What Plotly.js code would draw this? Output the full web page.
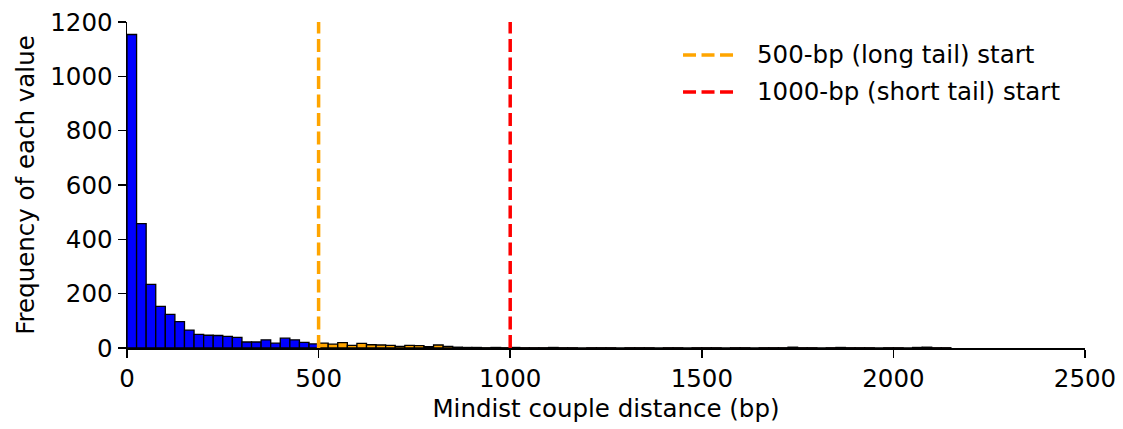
<!DOCTYPE html>
<html>
<head>
<meta charset="utf-8">
<script src="https://cdn.plot.ly/plotly-3.0.1.min.js"></script>
<style>html,body{margin:0;padding:0;background:#fff;}#chart{width:1123px;height:429px;}</style>
</head>
<body>
<div id="chart"></div>
<script>
// Bin width 25 bp; values are counts per bin, starting at bin left edges
const binWidth = 25;
const shortStart = 0;      // 0-500 bp bins
const shortCounts = [1154, 458, 234, 153, 124, 97, 66, 50, 47, 46, 43, 39, 22, 22, 30, 18, 36, 30, 21, 15];
const longStart = 500;     // 500-1000 bp bins
const longCounts = [18, 14, 20, 10, 17, 12, 11, 10, 6, 10, 9, 5, 11, 6, 3, 2, 2, 1, 2, 1];
const tailStart = 1000;    // 1000+ bp bins
const tailCounts = [2, 1, 1, 1, 2, 1, 1, 0, 1, 1, 1, 0, 1, 1, 1, 0, 1, 1, 0, 1, 1, 1, 0, 1, 1, 0, 1, 1, 1, 3, 1, 1, 0, 1, 2, 1, 1, 1, 0, 1, 1, 0, 2, 3, 1, 1];
const xTicks = [0, 500, 1000, 1500, 2000, 2500];
const yTicks = [0, 200, 400, 600, 800, 1000, 1200];
const lineLabels = ["500-bp (long tail) start", "1000-bp (short tail) start"];
const lineColors = ['#FFA500', '#FF0000'];
const linePositions = [500, 1000];
const xTitle = "Mindist couple distance (bp)";
const yTitle = "Frequency of each value";

function centers(start, n) {
  const out = [];
  for (let i = 0; i < n; i++) out.push(start + binWidth * (i + 0.5));
  return out;
}

const barLine = {color: '#000000', width: 1.3};
const dashStyle = '13px,5.5px';
const traces = [
  {type: 'bar', x: centers(shortStart, shortCounts.length), y: shortCounts, width: binWidth,
   marker: {color: '#0000FF', line: barLine}, showlegend: false},
  {type: 'bar', x: centers(longStart, longCounts.length), y: longCounts, width: binWidth,
   marker: {color: '#FFA500', line: barLine}, showlegend: false},
  {type: 'bar', x: centers(tailStart, tailCounts.length), y: tailCounts, width: binWidth,
   marker: {color: '#FF0000', line: barLine}, showlegend: false}
];
linePositions.forEach((p, i) => {
  traces.push({type: 'scatter', mode: 'lines', x: [p, p], y: [0, 1200], name: lineLabels[i],
    showlegend: false, line: {color: lineColors[i], width: 3.5, dash: dashStyle}});
});

// Hand-placed legend (matplotlib style: long dashed sample, wide gap to text)
const legendX0 = 0.5804, legendX1 = 0.6326, legendTextX = 0.6555;
const legendRows = [0.8988, 0.7853];
const shapes = [];
const annotations = [];
lineLabels.forEach((lab, i) => {
  shapes.push({type: 'line', xref: 'paper', yref: 'paper', x0: legendX0, x1: legendX1,
    y0: legendRows[i], y1: legendRows[i], line: {color: lineColors[i], width: 3.5, dash: dashStyle}});
  annotations.push({xref: 'paper', yref: 'paper', x: legendTextX, y: legendRows[i],
    xanchor: 'left', yanchor: 'middle', text: lab, showarrow: false,
    font: {size: 24.5, color: '#000', family: 'DejaVu Sans'}});
});

const axisCommon = {
  showgrid: false, zeroline: false, showline: true, linecolor: '#000', linewidth: 1.5,
  ticks: 'outside', ticklen: 8, tickwidth: 1.5, tickcolor: '#000',
  tickfont: {size: 24.5, color: '#000', family: 'DejaVu Sans'}
};

const layout = {
  width: 1123, height: 429,
  margin: {l: 127, r: 38, t: 22, b: 81, pad: 0},
  paper_bgcolor: '#fff', plot_bgcolor: '#fff',
  font: {family: 'DejaVu Sans', color: '#000', size: 24.5},
  bargap: 0,
  xaxis: Object.assign({}, axisCommon, {
    range: [0, 2500], tickvals: xTicks, ticktext: xTicks.map(String),
    title: {text: xTitle, font: {size: 24.5, color: '#000'}, standoff: 8}
  }),
  yaxis: Object.assign({}, axisCommon, {
    range: [0, 1200], tickvals: yTicks, ticktext: yTicks.map(String),
    title: {text: yTitle, font: {size: 24.5, color: '#000'}, standoff: 8}
  }),
  shapes: shapes,
  annotations: annotations,
  showlegend: false
};

Plotly.newPlot('chart', traces, layout, {displayModeBar: false, staticPlot: true});
</script>
</body>
</html>
